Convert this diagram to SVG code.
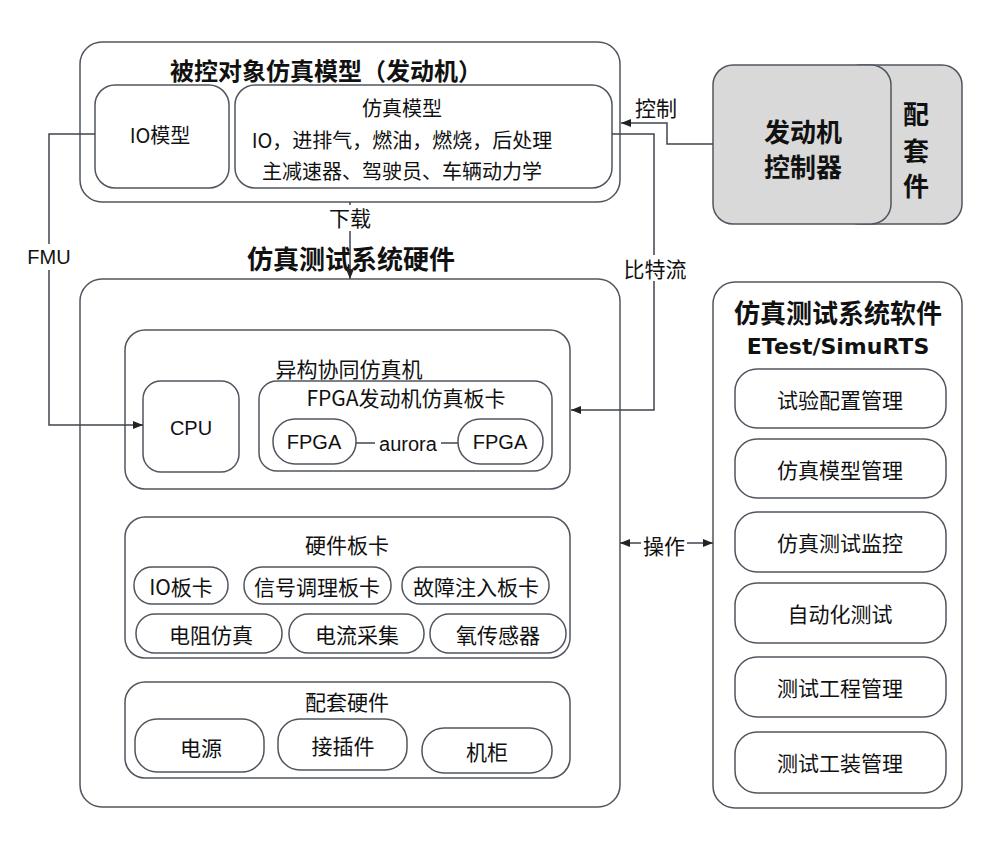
<svg xmlns="http://www.w3.org/2000/svg" width="1000" height="841" viewBox="0 0 1000 841">
<defs>
<style>
.box{fill:#fff;stroke:#50555f;stroke-width:1.5}
.gray{fill:#d9d9d9;stroke:#50555f;stroke-width:1.5}
.t{font-family:"Noto Sans CJK SC","Microsoft YaHei",sans-serif;font-size:21px;fill:#111;text-anchor:middle;dominant-baseline:central}
.ts{font-size:20px}
.tb{font-family:"Noto Sans CJK SC",sans-serif;font-size:26px;font-weight:bold;fill:#111;text-anchor:middle;dominant-baseline:central}
.en{font-family:"DejaVu Sans",sans-serif;font-size:22px;font-weight:bold;fill:#111;text-anchor:middle;dominant-baseline:central}
.lat{font-family:"Liberation Sans",Arial,sans-serif;font-size:20px;fill:#111;text-anchor:middle;dominant-baseline:central}
.ln{fill:none;stroke:#40444c;stroke-width:1.5}
.bg{fill:#fff;stroke:none}
</style>
<marker id="arr" viewBox="0 0 10 10" refX="10" refY="5" markerWidth="10" markerHeight="10" markerUnits="userSpaceOnUse" orient="auto-start-reverse">
<path d="M0,1 L10,5 L0,9 Z" fill="#222"/>
</marker>
</defs>
<rect width="1000" height="841" fill="#fff"/>

<g id="plant-model">
<rect class="box" x="80" y="42" width="540" height="160" rx="22"/>
<text class="tb" x="326" y="69" style="font-size:24px">被控对象仿真模型（发动机）</text>
</g>
<g id="io-model">
<rect class="box" x="95" y="85" width="134" height="103" rx="20"/>
<text class="t ts" x="160" y="134">IO模型</text>
</g>
<g id="sim-model">
<rect class="box" x="235" y="85" width="377" height="103" rx="20"/>
<text class="t ts" x="402" y="107">仿真模型</text>
<text class="t ts" x="402" y="139">IO，进排气，燃油，燃烧，后处理</text>
<text class="t ts" x="402" y="170">主减速器、驾驶员、车辆动力学</text>
</g>

<g id="accessories">
<rect class="gray" x="840" y="65" width="122" height="159" rx="20"/>
<text class="tb" x="916" y="112">配</text>
<text class="tb" x="916" y="149">套</text>
<text class="tb" x="916" y="184">件</text>
</g>
<g id="ecu">
<rect class="gray" x="713" y="65" width="178" height="159" rx="20"/>
<text class="tb" x="803" y="130">发动机</text>
<text class="tb" x="803" y="165">控制器</text>
</g>

<g id="hw-system">
<rect class="box" x="80" y="279" width="540" height="528" rx="22"/>
<text class="tb" x="351" y="257">仿真测试系统硬件</text>
</g>
<g id="hetero-sim">
<rect class="box" x="125" y="330" width="445" height="159" rx="20"/>
<text class="t" x="349" y="368">异构协同仿真机</text>
</g>
<g id="cpu">
<rect class="box" x="143" y="381" width="96" height="91" rx="18"/>
<text class="lat" x="191" y="428">CPU</text>
</g>
<g id="fpga-board">
<rect class="box" x="259" y="381" width="293" height="90" rx="18"/>
<text class="t" x="406" y="397">FPGA发动机仿真板卡</text>
</g>
<g id="fpga1">
<rect class="box" x="273" y="419" width="83" height="45" rx="22"/>
<text class="lat" x="314" y="442">FPGA</text>
</g>
<g id="fpga2">
<rect class="box" x="458" y="419" width="85" height="45" rx="22"/>
<text class="lat" x="500" y="442">FPGA</text>
</g>

<g id="hw-boards">
<rect class="box" x="125" y="517" width="445" height="141" rx="20"/>
<text class="t" x="347" y="544">硬件板卡</text>
</g>
<g id="io-board"><rect class="box" x="134" y="567" width="94" height="37" rx="18"/><text class="t" x="181" y="586">IO板卡</text></g>
<g id="signal-board"><rect class="box" x="244" y="567" width="147" height="37" rx="18"/><text class="t" x="317" y="586">信号调理板卡</text></g>
<g id="fault-board"><rect class="box" x="402" y="567" width="147" height="37" rx="18"/><text class="t" x="476" y="586">故障注入板卡</text></g>
<g id="resistor-sim"><rect class="box" x="136" y="614" width="146" height="39" rx="19"/><text class="t" x="211" y="634">电阻仿真</text></g>
<g id="current-acq"><rect class="box" x="289" y="614" width="135" height="39" rx="19"/><text class="t" x="357" y="634">电流采集</text></g>
<g id="o2-sensor"><rect class="box" x="430" y="614" width="136" height="39" rx="19"/><text class="t" x="498" y="634">氧传感器</text></g>

<g id="support-hw">
<rect class="box" x="125" y="682" width="445" height="96" rx="20"/>
<text class="t" x="347" y="701">配套硬件</text>
</g>
<g id="power"><rect class="box" x="135" y="719" width="129" height="53" rx="22"/><text class="t" x="201" y="747">电源</text></g>
<g id="connector"><rect class="box" x="278" y="719" width="129" height="51" rx="22"/><text class="t" x="343" y="745">接插件</text></g>
<g id="cabinet"><rect class="box" x="422" y="728" width="130" height="45" rx="22"/><text class="t" x="487" y="751">机柜</text></g>

<g id="sw-system">
<rect class="box" x="713" y="282" width="249" height="526" rx="22"/>
<text class="tb" x="838" y="311">仿真测试系统软件</text>
<text class="en" x="838" y="346">ETest/SimuRTS</text>
</g>
<g id="sw1"><rect class="box" x="735" y="369" width="211" height="59" rx="22"/><text class="t" x="840" y="399">试验配置管理</text></g>
<g id="sw2"><rect class="box" x="735" y="439" width="211" height="59" rx="22"/><text class="t" x="840" y="469">仿真模型管理</text></g>
<g id="sw3"><rect class="box" x="735" y="512" width="211" height="60" rx="22"/><text class="t" x="840" y="542">仿真测试监控</text></g>
<g id="sw4"><rect class="box" x="735" y="583" width="211" height="60" rx="22"/><text class="t" x="840" y="613">自动化测试</text></g>
<g id="sw5"><rect class="box" x="735" y="657" width="211" height="60" rx="22"/><text class="t" x="840" y="687">测试工程管理</text></g>
<g id="sw6"><rect class="box" x="735" y="732" width="211" height="61" rx="22"/><text class="t" x="840" y="762">测试工装管理</text></g>

<g id="connectors">
<path class="ln" d="M95,134 H49 V425 H143" marker-end="url(#arr)"/>
<rect class="bg" x="27" y="244" width="44" height="26"/>
<text class="lat" x="49" y="257">FMU</text>

<path class="ln" d="M713,144 H667 V123 H621" marker-end="url(#arr)"/>
<text class="t" x="656" y="107">控制</text>

<path class="ln" d="M612,134 H654 V410 H571" marker-end="url(#arr)"/>
<rect class="bg" x="622" y="255" width="66" height="26"/>
<text class="t" x="655" y="268">比特流</text>

<path class="ln" d="M350,202 V279" marker-end="url(#arr)"/>
<rect class="bg" x="327" y="205" width="46" height="26"/>
<text class="t" x="350" y="217">下载</text>

<path class="ln" d="M356,443 H458"/>
<rect class="bg" x="375" y="432" width="66" height="24"/>
<text class="lat" x="408" y="444">aurora</text>

<path class="ln" d="M620,543 H713" marker-start="url(#arr)" marker-end="url(#arr)"/>
<rect class="bg" x="641" y="532" width="46" height="26"/>
<text class="t" x="664" y="545">操作</text>
</g>
</svg>
